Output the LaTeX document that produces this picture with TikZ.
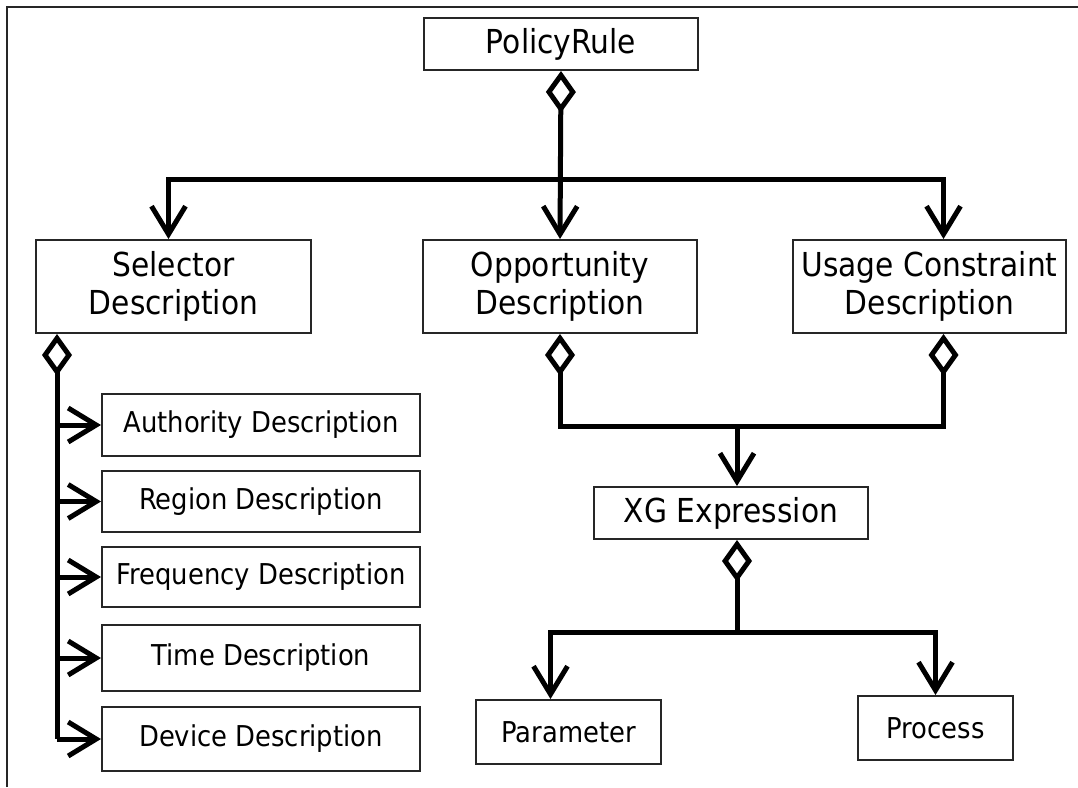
\documentclass[tikz,border=0pt]{standalone}
\usepackage{fontspec}
\setmainfont{DejaVu Sans}[FakeStretch=0.9]
\usetikzlibrary{arrows.meta}
\begin{document}
\begin{tikzpicture}[x=1pt,y=-1pt,
  box/.style={draw=black!85,line width=2pt,fill=white,inner sep=0pt,align=center},
  big/.style={box,font=\fontsize{33}{38}\selectfont},
  small/.style={box,font=\fontsize{28.7}{34}\selectfont},
  conn/.style={line width=5pt},
  dia/.tip={Diamond[open,length=42pt,width=30pt]},
  barb/.tip={Straight Barb[length=28pt,width=34pt]}]
\useasboundingbox (0,0) rectangle (1078,787);
% frame
\draw[line width=2.5pt,black!85] (7,787) -- (7,7) -- (1078,7);
% nodes
\node[big,minimum width=274pt,minimum height=52pt] (policy) at (561,44) {PolicyRule};
\node[big,minimum width=275pt,minimum height=93pt] (selector) at (173.5,286.5) {Selector\\Description};
\node[big,minimum width=274pt,minimum height=93pt] (opportunity) at (560,286.5) {Opportunity\\Description};
\node[big,minimum width=273pt,minimum height=93pt] (usage) at (929.5,286.5) {Usage Constraint\\Description};
\node[big,minimum width=274pt,minimum height=52pt] (xg) at (731,513) {XG Expression};
\node[small,minimum width=185pt,minimum height=64pt] (parameter) at (568.5,732) {Parameter};
\node[small,minimum width=155pt,minimum height=64pt] (process) at (935.5,728) {Process};
\node[small,minimum width=318pt,minimum height=62pt] (authority) at (261,425) {Authority Description};
\node[small,minimum width=318pt,minimum height=61pt] (region) at (261,501.5) {Region Description};
\node[small,minimum width=318pt,minimum height=60pt] (frequency) at (261,577) {Frequency Description};
\node[small,minimum width=318pt,minimum height=66pt] (time) at (261,658) {Time Description};
\node[small,minimum width=318pt,minimum height=64pt] (device) at (261,739) {Device Description};
% junctions
\coordinate (bj) at (561,179);
\coordinate (mj) at (737,426);
\coordinate (sj) at (737,632);
\coordinate (spine) at ([xshift=22pt]selector.south west);
% connectors
\draw[conn,dia-barb] (policy.south) -- (opportunity.north);
\draw[conn,-barb] (bj) -| ([xshift=-5pt]selector.north);
\draw[conn,-barb] (bj) -| ([xshift=14pt]usage.north);
\draw[conn,dia-] (opportunity.south) |- (mj);
\draw[conn,dia-] ([xshift=14pt]usage.south) |- (mj);
\draw[conn,-barb] (mj) -- ([xshift=6pt]xg.north);
\draw[conn,dia-] ([xshift=6pt]xg.south) -- (sj);
\draw[conn,-barb] (sj) -| ([xshift=-18pt]parameter.north);
\draw[conn,-barb] (sj) -| (process.north);
\draw[conn,dia-] (spine) -- (spine |- device.west);
\foreach \n in {authority,region,frequency,time,device}
  \draw[conn,-barb] (spine |- \n.west) -- (\n.west);
\end{tikzpicture}
\end{document}
